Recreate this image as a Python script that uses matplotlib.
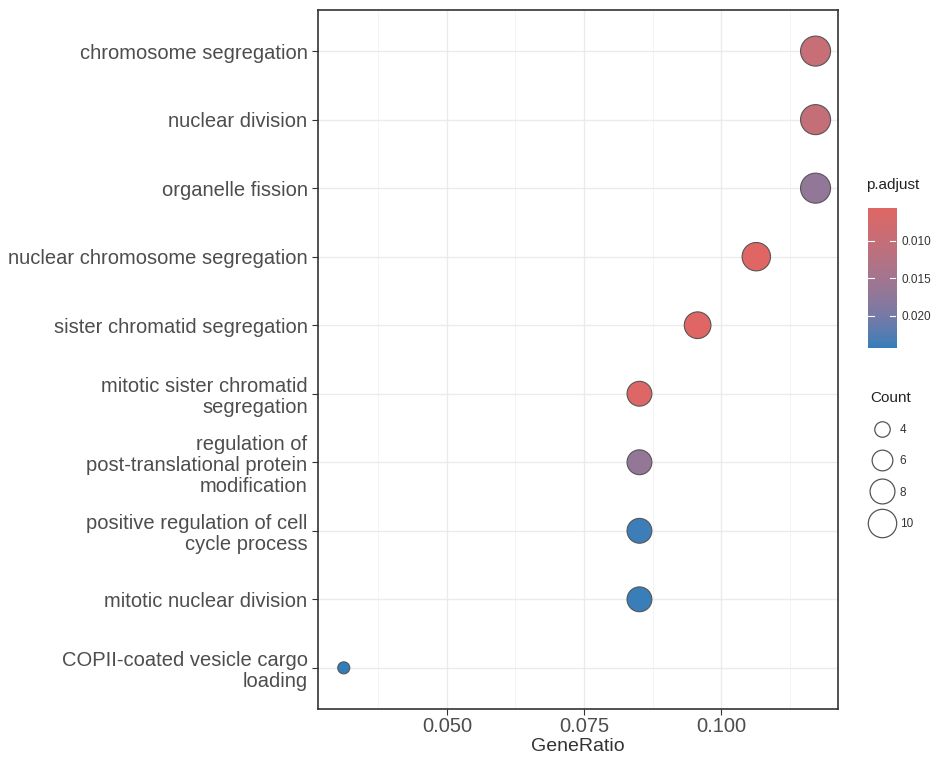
import numpy as np
import matplotlib
matplotlib.use('Agg')
import matplotlib.pyplot as plt
from matplotlib.colors import ListedColormap, Normalize, to_rgb
from matplotlib.lines import Line2D

plt.rcParams['font.family'] = ['Liberation Sans', 'DejaVu Sans']

terms = [
    "chromosome segregation",
    "nuclear division",
    "organelle fission",
    "nuclear chromosome segregation",
    "sister chromatid segregation",
    "mitotic sister chromatid\nsegregation",
    "regulation of\npost-translational protein\nmodification",
    "positive regulation of cell\ncycle process",
    "mitotic nuclear division",
    "COPII-coated vesicle cargo\nloading",
]
gene_ratio = [0.1172, 0.1172, 0.1172, 0.1064, 0.0957, 0.0851, 0.0851, 0.0851, 0.0851, 0.0312]
counts = [11, 11, 11, 10, 9, 8, 8, 8, 8, 3]
p_adjust = [0.0097, 0.0102, 0.0170, 0.0056, 0.0058, 0.0062, 0.0168, 0.0238, 0.0240, 0.0243]
size_breaks = [4, 6, 8, 10]
cbar_ticks = [0.010, 0.015, 0.020]


# gradient interpolated in Lab space, like ggplot's scale_colour_gradient
def srgb_to_lab(rgb):
    c = np.asarray(rgb, dtype=float)
    c = np.where(c > 0.04045, ((c + 0.055) / 1.055) ** 2.4, c / 12.92)
    m = np.array([[0.4124, 0.3576, 0.1805],
                  [0.2126, 0.7152, 0.0722],
                  [0.0193, 0.1192, 0.9505]])
    xyz = m @ c / np.array([0.95047, 1.0, 1.08883])
    f = np.where(xyz > 0.008856, np.cbrt(xyz), 7.787 * xyz + 16 / 116)
    return np.array([116 * f[1] - 16, 500 * (f[0] - f[1]), 200 * (f[1] - f[2])])


def lab_to_srgb(lab):
    L, a, b = lab
    fy = (L + 16) / 116
    fx = fy + a / 500
    fz = fy - b / 200
    f = np.array([fx, fy, fz])
    xyz = np.where(f ** 3 > 0.008856, f ** 3, (f - 16 / 116) / 7.787)
    xyz = xyz * np.array([0.95047, 1.0, 1.08883])
    m = np.array([[3.2406, -1.5372, -0.4986],
                  [-0.9689, 1.8758, 0.0415],
                  [0.0557, -0.2040, 1.0570]])
    c = m @ xyz
    c = np.where(c > 0.0031308, 1.055 * np.clip(c, 0, None) ** (1 / 2.4) - 0.055, 12.92 * c)
    return np.clip(c, 0, 1)


lab_lo = srgb_to_lab(to_rgb('#e06663'))
lab_hi = srgb_to_lab(to_rgb('#327eba'))
cmap = ListedColormap([lab_to_srgb(lab_lo + t * (lab_hi - lab_lo))
                       for t in np.linspace(0, 1, 256)])
norm = Normalize(vmin=min(p_adjust), vmax=max(p_adjust))


def area(c):
    # point area in pt^2, linear in count
    return -72 + 49 * np.asarray(c, dtype=float)


fig = plt.figure(figsize=(9.43, 7.62), dpi=100)
ax = fig.add_axes([0.3372, 0.0696, 0.5515, 0.9173])

ypos = np.arange(len(terms))[::-1] + 1
ax.scatter(gene_ratio, ypos, s=area(counts), c=p_adjust, cmap=cmap, norm=norm,
           edgecolors='#555555', linewidths=0.8, zorder=3)

ax.set_xlim(0.0265, 0.1213)
ax.set_ylim(0.4, len(terms) + 0.6)
ax.set_xticks([0.050, 0.075, 0.100])
ax.set_xticklabels(['0.050', '0.075', '0.100'])
ax.set_xticks([0.0375, 0.0625, 0.0875, 0.1125], minor=True)
ax.set_yticks(ypos)
ax.set_yticklabels(terms, linespacing=1.15)
ax.grid(True, which='major', color='#EBEBEB', linewidth=1.0, zorder=0)
ax.grid(True, which='minor', axis='x', color='#F3F3F3', linewidth=0.6, zorder=0)
ax.set_axisbelow(True)
ax.tick_params(axis='both', which='major', length=4, color='#333333',
               labelsize=14.5, labelcolor='#4D4D4D', width=0.8)
ax.tick_params(axis='x', which='major', pad=1.5)
ax.tick_params(axis='both', which='minor', length=0)
for sp in ax.spines.values():
    sp.set_color('#333333')
    sp.set_linewidth(1.2)
ax.set_xlabel('GeneRatio', fontsize=14, color='#333333', labelpad=2)

# colour bar legend
fig.text(0.918, 0.748, 'p.adjust', fontsize=11, color='#222222', va='bottom')
cax = fig.add_axes([0.9205, 0.5433, 0.0297, 0.184])
grad = np.linspace(norm.vmin, norm.vmax, 256).reshape(-1, 1)
cax.imshow(grad, aspect='auto', cmap=cmap, norm=norm, origin='upper',
           extent=[0, 1, norm.vmax, norm.vmin])
cax.set_ylim(norm.vmax, norm.vmin)
cax.set_xlim(0, 1)
cax.set_xticks([])
cax.yaxis.tick_right()
cax.set_yticks(cbar_ticks)
cax.set_yticklabels(['%.3f' % t for t in cbar_ticks])
cax.tick_params(axis='y', length=0, labelsize=8.5, labelcolor='#333333', pad=4)
for t in cbar_ticks:
    cax.plot([0, 0.2], [t, t], color='white', lw=0.8)
    cax.plot([0.8, 1], [t, t], color='white', lw=0.8)
for sp in cax.spines.values():
    sp.set_visible(False)

# size legend
handles = [Line2D([], [], linestyle='', marker='o', markersize=np.sqrt(area(c)),
                  markerfacecolor='white', markeredgecolor='#555555',
                  markeredgewidth=0.9) for c in size_breaks]
leg = fig.legend(handles, [str(c) for c in size_breaks], title='Count',
                 loc='upper left', bbox_to_anchor=(0.914, 0.498), frameon=False,
                 fontsize=8.5, title_fontsize=11, labelspacing=1.63,
                 handletextpad=0.5, borderpad=0.2, alignment='left')
for t in leg.get_texts():
    t.set_color('#333333')
leg.get_title().set_color('#222222')

fig.savefig('out.png', dpi=100)
